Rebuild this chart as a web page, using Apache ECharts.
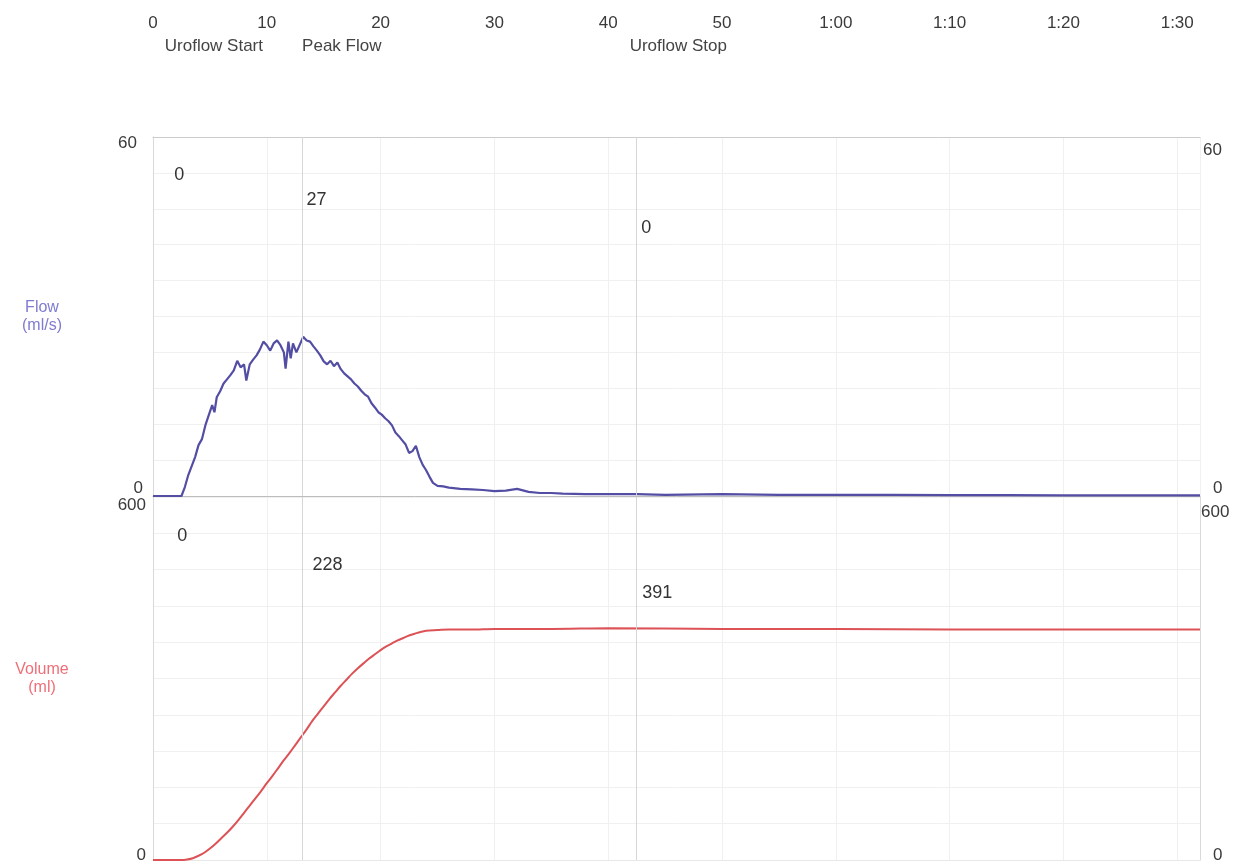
<!DOCTYPE html>
<html><head><meta charset="utf-8">
<script src="https://cdn.jsdelivr.net/npm/echarts@6/dist/echarts.min.js"></script>
<style>html,body{margin:0;padding:0;background:#fff}#c{width:1246px;height:864px}</style>
</head><body><div id="c"></div>
<script>
// ---- data ----
const timeTicks = [0,10,20,30,40,50,60,70,80,90];
const timeLabels = ['0','10','20','30','40','50','1:00','1:10','1:20','1:30'];

const flowTime = [0,1,2,2.5,2.8,3.1,3.4,3.7,4.0,4.3,4.6,4.9,5.2,5.4,5.6,5.9,6.2,6.5,6.8,7.1,7.4,7.7,8.0,8.2,8.5,8.8,9.1,9.4,9.7,10.0,10.3,10.6,10.9,11.2,11.5,11.65,11.9,12.1,12.3,12.6,12.9,13.2,13.5,13.8,14.1,14.4,14.7,15.0,15.3,15.6,15.9,16.2,16.5,16.8,17.1,17.4,17.7,18.0,18.3,18.6,18.9,19.2,19.5,19.8,20.1,20.4,20.7,21.0,21.3,21.6,21.9,22.2,22.5,22.8,23.1,23.4,23.7,24.0,24.3,24.6,25.0,25.5,26.0,27.0,28.0,29.0,30.0,31.0,32.0,33.0,34.0,35.0,36.0,38.0,40.0,42.5,45,50,55,60,65,70,75,80,85,92];
const flowValue = [0,0,0,0,1.5,3.5,5.0,6.5,8.5,9.5,11.8,13.5,15.2,14.0,16.5,17.5,18.8,19.5,20.2,21.0,22.6,21.5,22.0,19.3,22.0,22.8,23.5,24.5,25.8,25.2,24.3,25.5,26.0,25.2,24.0,21.3,25.8,23.0,25.5,24.0,25.3,26.6,26.0,25.8,25.0,24.3,23.5,22.5,22.0,22.6,21.7,22.3,21.2,20.5,20.0,19.5,18.8,18.3,17.6,17.0,16.6,15.5,14.8,14.0,13.6,13.0,12.5,11.8,10.6,10.0,9.3,8.6,7.2,7.5,8.4,6.5,5.2,4.3,3.2,2.2,1.7,1.6,1.4,1.2,1.1,1.0,0.8,0.9,1.2,0.7,0.5,0.5,0.4,0.3,0.3,0.3,0.2,0.3,0.2,0.2,0.2,0.15,0.15,0.1,0.1,0.1];

const volTime = [0,2.5,3,3.5,4,4.5,5,5.5,6,6.5,7,7.5,8,8.5,9,9.5,10,10.5,11,11.5,12,12.5,13,13.5,14,14.5,15,15.5,16,16.5,17,17.5,18,18.5,19,19.5,20,20.5,21,21.5,22,22.5,23,23.5,24,25,26,28,30,35,40,50,60,70,80,92];
const volValue = [0,0,1,3,7,12,19,27,36,45,55,66,78,90,102,114,127,139,152,165,177,190,203,216,230,242,254,266,277,288,298,308,317,325,333,340,347,353,358,363,367,371,374,377,379,380,381,381,382,382,383,382,382,381,381,381];

const markerNames = ['Uroflow Start','Peak Flow','Uroflow Stop'];
const markerTimes = [2.0, 13.1, 42.5];
const flowMarkerValues = ['0','27','0'];
const volumeMarkerValues = ['0','228','391'];

// ---- layout / style ----
const FONT = 'Liberation Sans, Arial, sans-serif';
const AX = 17;     // axis label font size
const VAL = 18;    // marker value font size
const flowLabelY = [53.6, 49.4, 44.7];
const flowLabelDx = [-1, 5, 5];
const volLabelY = [534, 486, 441];
const volLabelDx = [2, 11, 6];
const topLabelDx = [-11, 0, -7];

const chart = echarts.init(document.getElementById('c'), null, {renderer:'canvas'});

function edgeLabel(min, max, tPad, bPad, margin){
  return {
    margin: margin, fontSize: AX, color: '#3a3a3a', fontFamily: FONT,
    formatter: v => v === max ? '{t|' + v + '}' : (v === min ? '{b|' + v + '}' : ''),
    rich: {
      t: {fontSize:AX, color:'#3a3a3a', fontFamily:FONT, padding:tPad},
      b: {fontSize:AX, color:'#3a3a3a', fontFamily:FONT, padding:bPad}
    }
  };
}

const gridLine = {show:true, lineStyle:{color:'#f0f0f0', width:1}};
const borderLine = {show:true, lineStyle:{color:'#d9d9d9', width:1}};

const vMarkLine = {
  symbol:'none', silent:true, label:{show:false},
  lineStyle:{color:'#d6d6d6', type:'solid', width:1},
  data: [{xAxis: markerTimes[1]}, {xAxis: markerTimes[2]}]
};

function markPts(yArr, dxArr, labels){
  return {
    symbol:'circle', symbolSize:1, silent:true,
    itemStyle:{color:'rgba(0,0,0,0)'},
    data: labels.map((l,i)=>({
      coord:[markerTimes[i], yArr[i]], value:l,
      label:{show:true, position:[dxArr[i], -9], formatter:l, color:'#333', fontSize:VAL, fontFamily:FONT}
    }))
  };
}

const option = {
  animation:false,
  backgroundColor:'#fff',
  textStyle:{fontFamily:FONT},
  grid:[
    {left:153, right:46, top:137, height:359},
    {left:153, right:46, top:497, height:363}
  ],
  xAxis:[
    {gridIndex:0, type:'value', min:0, max:92, interval:10, axisLine:{show:true, lineStyle:{color:'#bdbdbd'}}, axisTick:{show:false}, axisLabel:{show:false}, splitLine:gridLine},
    {gridIndex:1, type:'value', min:0, max:92, interval:10, axisLine:{show:true, lineStyle:{color:'#e8e8e8'}}, axisTick:{show:false}, axisLabel:{show:false}, splitLine:gridLine},
    {gridIndex:0, type:'value', position:'top', offset:100, min:0, max:92, interval:10,
      axisLine:{show:false}, axisTick:{show:false}, splitLine:{show:false},
      axisLabel:{show:true, showMaxLabel:false, margin:5, color:'#3a3a3a', fontSize:AX, fontFamily:FONT,
        formatter: v => { const i = timeTicks.indexOf(v); return i >= 0 ? timeLabels[i] : ''; }}},
    {gridIndex:0, type:'value', position:'top', min:0, max:92, axisLine:{show:true, lineStyle:{color:'#cccccc'}}, axisTick:{show:false}, axisLabel:{show:false}, splitLine:{show:false}}
  ],
  yAxis:[
    {gridIndex:0, type:'value', min:0, max:60, interval:6, position:'left',
      axisLine:borderLine, axisTick:{show:false}, splitLine:gridLine,
      axisLabel: edgeLabel(0,60,[12,6,0,0],[0,0,16,0],10),
      name:'Flow\n(ml/s)', nameLocation:'middle', nameRotate:0, nameGap:111,
      nameTextStyle:{color:'#7f7bd0', fontSize:16, fontFamily:FONT, align:'center', lineHeight:18}},
    {gridIndex:0, type:'value', min:0, max:60, interval:6, position:'right',
      axisLine:borderLine, axisTick:{show:false}, splitLine:{show:false},
      axisLabel: edgeLabel(0,60,[26,0,0,0],[0,0,16,10],3)},
    {gridIndex:1, type:'value', min:0, max:600, interval:60, position:'left',
      axisLine:borderLine, axisTick:{show:false}, splitLine:gridLine,
      axisLabel: edgeLabel(0,600,[16,0,0,0],[0,0,10,0],7),
      name:'Volume\n(ml)', nameLocation:'middle', nameRotate:0, nameGap:111,
      nameTextStyle:{color:'#ee6f78', fontSize:16, fontFamily:FONT, align:'center', lineHeight:18}},
    {gridIndex:1, type:'value', min:0, max:600, interval:60, position:'right',
      axisLine:borderLine, axisTick:{show:false}, splitLine:{show:false},
      axisLabel: edgeLabel(0,600,[30,0,0,0],[0,0,10,12],1)}
  ],
  series:[
    {type:'line', name:'Flow', xAxisIndex:0, yAxisIndex:0, showSymbol:false, symbol:'none',
      lineStyle:{color:'#534ea3', width:2.2}, itemStyle:{color:'#534ea3'},
      data: flowTime.map((t,i)=>[t, flowValue[i]]),
      markLine: vMarkLine,
      markPoint: markPts(flowLabelY, flowLabelDx, flowMarkerValues)},
    {type:'line', name:'Volume', xAxisIndex:1, yAxisIndex:2, showSymbol:false, symbol:'none', smooth:0.3,
      lineStyle:{color:'#dc5256', width:2}, itemStyle:{color:'#dc5256'},
      data: volTime.map((t,i)=>[t, volValue[i]]),
      markLine: vMarkLine,
      markPoint: markPts(volLabelY, volLabelDx, volumeMarkerValues)}
  ]
};
chart.setOption(option);

// event names above the time scale, placed through the x scale
const topTexts = markerNames.map((n,i)=>({
  type:'text',
  x: chart.convertToPixel({xAxisIndex:0}, markerTimes[i]) + topLabelDx[i],
  y: 46,
  style:{text:n, fill:'#444', font:AX + 'px ' + FONT, textAlign:'left', textVerticalAlign:'middle'}
}));
chart.setOption({graphic: topTexts});
</script>
</body></html>
